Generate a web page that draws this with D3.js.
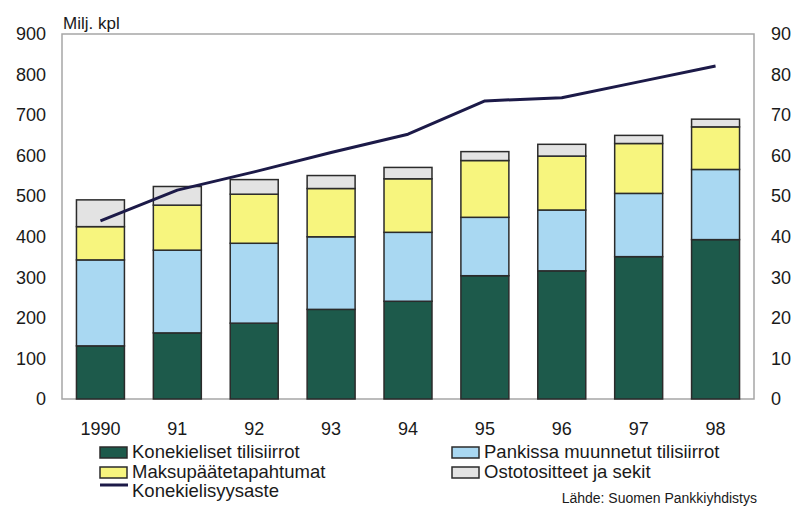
<!DOCTYPE html>
<html>
<head>
<meta charset="utf-8">
<script src="https://cdn.jsdelivr.net/npm/d3@7"></script>
<style>
  html, body { margin: 0; padding: 0; background: #fff; }
  svg { display: block; font-family: "Liberation Sans", Arial, Helvetica, sans-serif; }
</style>
</head>
<body>
<svg id="chart" width="798" height="506"></svg>
<script>
// Payment transactions in Finland, millions, by type
const years = ["1990", "91", "92", "93", "94", "95", "96", "97", "98"];
const konekieliset = [131, 163, 187, 221, 241, 304, 316, 351, 393];
const pankissaMuunnetut = [212, 204, 197, 179, 170, 144, 150, 156, 173];
const maksupaatteet = [82, 111, 121, 119, 132, 140, 133, 123, 105];
const ostotositteet = [66, 46, 36, 32, 28, 22, 29, 20, 19];
// Automation rate, % (right axis)
const konekielisyysaste = [43.9, 51.5, 56.0, 60.8, 65.3, 73.5, 74.3, 78.2, 82.1];

const leftTicks = [0, 100, 200, 300, 400, 500, 600, 700, 800, 900];
const rightTicks = [0, 10, 20, 30, 40, 50, 60, 70, 80, 90];

const seriesKeys = ["konekieliset", "pankissa", "maksu", "osto"];
const seriesNames = {
  konekieliset: "Konekieliset tilisiirrot",
  pankissa: "Pankissa muunnetut tilisiirrot",
  maksu: "Maksupäätetapahtumat",
  osto: "Ostotositteet ja sekit"
};
const colors = {
  konekieliset: "#1d5a4b",
  pankissa: "#a9d8f2",
  maksu: "#f7f57e",
  osto: "#e3e3e3"
};

const rows = years.map((y, i) => ({
  year: y,
  konekieliset: konekieliset[i],
  pankissa: pankissaMuunnetut[i],
  maksu: maksupaatteet[i],
  osto: ostotositteet[i]
}));

const svg = d3.select("#chart");
const plot = { left: 62, right: 754, top: 34, bottom: 399 };

const x = d3.scaleBand()
  .domain(years)
  .range([plot.left, plot.right])
  .paddingInner(0.376)
  .paddingOuter(0.188);

const yLeft = d3.scaleLinear().domain([0, 900]).range([plot.bottom, plot.top]);
const yRight = d3.scaleLinear().domain([0, 90]).range([plot.bottom, plot.top]);

// plot frame
svg.append("rect")
  .attr("x", plot.left).attr("y", plot.top)
  .attr("width", plot.right - plot.left)
  .attr("height", plot.bottom - plot.top)
  .attr("fill", "none")
  .attr("stroke", "#a6a6a6")
  .attr("stroke-width", 1.5);

// stacked bars
const stacked = d3.stack().keys(seriesKeys)(rows);
svg.append("g")
  .selectAll("g")
  .data(stacked)
  .join("g")
  .attr("fill", d => colors[d.key])
  .selectAll("rect")
  .data(d => d)
  .join("rect")
  .attr("x", d => x(d.data.year))
  .attr("width", x.bandwidth())
  .attr("y", d => yLeft(d[1]))
  .attr("height", d => yLeft(d[0]) - yLeft(d[1]))
  .attr("stroke", "#2b2b2b")
  .attr("stroke-width", 1.5);

// automation-rate line
const line = d3.line()
  .x((d, i) => x(years[i]) + x.bandwidth() / 2)
  .y(d => yRight(d));
svg.append("path")
  .datum(konekielisyysaste)
  .attr("d", line)
  .attr("fill", "none")
  .attr("stroke", "#1c1a48")
  .attr("stroke-width", 3)
  .attr("stroke-linejoin", "round");

// axes
const styleAxis = g => {
  g.select(".domain").remove();
  g.selectAll("text")
    .attr("fill", "#1a1a1a")
    .style("font-size", "18px")
    .style("font-family", "'Liberation Sans', Arial, Helvetica, sans-serif");
};

svg.append("g")
  .attr("transform", `translate(${plot.left},0)`)
  .call(d3.axisLeft(yLeft).tickValues(leftTicks).tickSize(0).tickPadding(16))
  .call(styleAxis);

svg.append("g")
  .attr("transform", `translate(${plot.right},0)`)
  .call(d3.axisRight(yRight).tickValues(rightTicks).tickSize(0).tickPadding(17))
  .call(styleAxis);

svg.append("g")
  .attr("transform", `translate(0,${plot.bottom})`)
  .call(d3.axisBottom(x).tickSize(0).tickPadding(23))
  .call(styleAxis);

// unit label
svg.append("text")
  .attr("x", 63).attr("y", 29)
  .attr("fill", "#1a1a1a")
  .style("font-size", "17px")
  .text("Milj. kpl");

// legend
const legendItems = [
  { key: "konekieliset", col: 0, row: 0 },
  { key: "pankissa", col: 1, row: 0 },
  { key: "maksu", col: 0, row: 1 },
  { key: "osto", col: 1, row: 1 }
];
const colX = [100, 452];
const rowBase = [458, 478, 497];

const legend = svg.append("g");
legendItems.forEach(it => {
  const gx = colX[it.col], by = rowBase[it.row];
  legend.append("rect")
    .attr("x", gx).attr("y", by - 11)
    .attr("width", 27).attr("height", 11)
    .attr("fill", colors[it.key])
    .attr("stroke", "#2b2b2b")
    .attr("stroke-width", 1.5);
  legend.append("text")
    .attr("x", gx + 32).attr("y", by)
    .attr("fill", "#1a1a1a")
    .style("font-size", "18.5px")
    .text(seriesNames[it.key]);
});
legend.append("line")
  .attr("x1", colX[0]).attr("x2", colX[0] + 28)
  .attr("y1", 485).attr("y2", 485)
  .attr("stroke", "#1c1a48")
  .attr("stroke-width", 3);
legend.append("text")
  .attr("x", colX[0] + 32).attr("y", rowBase[2])
  .attr("fill", "#1a1a1a")
  .style("font-size", "18.5px")
  .text("Konekielisyysaste");

// source note
svg.append("text")
  .attr("x", 757).attr("y", 503)
  .attr("text-anchor", "end")
  .attr("fill", "#1a1a1a")
  .style("font-size", "14px")
  .text("Lähde: Suomen Pankkiyhdistys");
</script>
</body>
</html>
